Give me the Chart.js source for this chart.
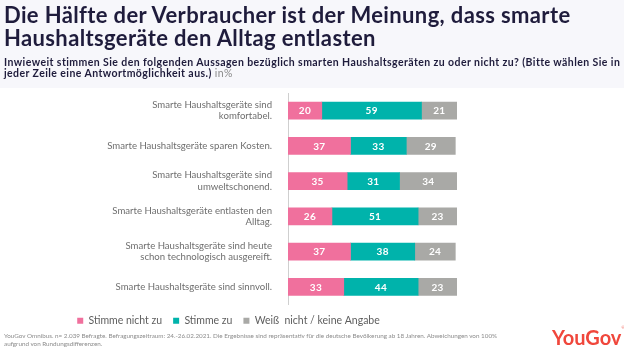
<!DOCTYPE html>
<html>
<head>
<meta charset="utf-8">
<script src="https://cdn.jsdelivr.net/npm/chart.js@4"></script>
<style>
  html, body { margin:0; padding:0; background:#ffffff; }
  body { width:624px; height:356px; position:relative; overflow:hidden; font-family: Lato, "Open Sans", sans-serif; }
  #band { position:absolute; left:0; top:0; width:624px; height:88px; background:#f7f7fb; }
  #c { position:absolute; left:0; top:0; }
  .line { position:absolute; left:4px; white-space:nowrap; line-height:1.2; }
  .title { font-weight:700; color:#1f1c3c; font-size:22px; }
  .sub { font-weight:700; color:#1f1c3c; font-size:10.5px; }
  .sub .gray { font-weight:400; color:#8a8a8a; }
  .foot { color:#8c8c8c; font-size:5.6px; font-weight:400; }
  #logo { position:absolute; left:552px; top:325px; color:#f0473c; font-weight:700; font-size:20px; white-space:nowrap; }
  #logo sup { font-size:4px; vertical-align:top; font-weight:400; }
</style>
</head>
<body>
<div id="band"></div>
<canvas id="c" width="607" height="356"></canvas>
<div class="line title" id="t1" style="top:2px">Die Hälfte der Verbraucher ist der Meinung, dass smarte</div>
<div class="line title" id="t2" style="top:25px">Haushaltsgeräte den Alltag entlasten</div>
<div class="line sub" id="s1" style="top:56px">Inwieweit stimmen Sie den folgenden Aussagen bezüglich smarten Haushaltsgeräten zu oder nicht zu? (Bitte wählen Sie in</div>
<div class="line sub" id="s2" style="top:67px">jeder Zeile eine Antwortmöglichkeit aus.) <span class="gray">in%</span></div>
<div class="line foot" id="f1" style="top:332px">YouGov Omnibus. n= 2.039 Befragte. Befragungszeitraum: 24.-26.02.2021. Die Ergebnisse sind repräsentativ für die deutsche Bevölkerung ab 18 Jahren. Abweichungen von 100%</div>
<div class="line foot" id="f2" style="top:339.5px">aufgrund von Rundungsdifferenzen.</div>
<div id="logo">YouGov<sup>®</sup></div>
<script>
// ---- data ----
const categories = [
  ["Smarte Haushaltsgeräte sind", "komfortabel."],
  "Smarte Haushaltsgeräte sparen Kosten.",
  ["Smarte Haushaltsgeräte sind", "umweltschonend."],
  ["Smarte Haushaltsgeräte entlasten den", "Alltag."],
  ["Smarte Haushaltsgeräte sind heute", "schon technologisch ausgereift."],
  "Smarte Haushaltsgeräte sind sinnvoll."
];
const seriesNames = ["Stimme nicht zu", "Stimme zu", "Weiß  nicht / keine Angabe"];
const disagree = [20, 37, 35, 26, 37, 33];
const agree    = [59, 33, 31, 51, 38, 44];
const unknown  = [21, 29, 34, 23, 24, 23];
const seriesColors = ["#f0709d", "#00b3ab", "#a9a9a6"];

// ---- fit HTML text widths with letter-spacing ----
function fitLS(id, w) {
  const el = document.getElementById(id);
  el.style.letterSpacing = "0px";
  const w0 = el.getBoundingClientRect().width;
  const n = el.textContent.length;
  const ls = (w - w0) / n;
  el.style.letterSpacing = ls + "px";
  return ls;
}
const lsT = fitLS("t1", 566);
document.getElementById("t2").style.letterSpacing = lsT + "px";
const lsS = fitLS("s1", 616);
document.getElementById("s2").style.letterSpacing = lsS + "px";
function fitFS(id, w) {
  const el = document.getElementById(id);
  let fs = parseFloat(getComputedStyle(el).fontSize);
  for (let i = 0; i < 5; i++) {
    fs = fs * w / el.getBoundingClientRect().width;
    el.style.fontSize = fs + "px";
  }
  return fs;
}
const fsF = fitFS("f1", 494);
document.getElementById("f2").style.fontSize = fsF + "px";

const labelPlugin = {
  id: "barLabels",
  afterDatasetsDraw(chart) {
    const ctx = chart.ctx;
    ctx.save();
    ctx.letterSpacing = "0.3px";
    ctx.fillStyle = "#ffffff";
    ctx.font = "700 10px Lato";
    ctx.textAlign = "center";
    ctx.textBaseline = "middle";
    chart.data.datasets.forEach((ds, di) => {
      const meta = chart.getDatasetMeta(di);
      meta.data.forEach((bar, i) => {
        const cx = (bar.x + bar.base) / 2;
        ctx.fillText(String(ds.data[i]), cx, bar.y + 0.5);
      });
    });
    ctx.restore();
  }
};

new Chart(document.getElementById("c"), {
  type: "bar",
  data: {
    labels: categories,
    datasets: [
      { label: seriesNames[0], data: disagree, backgroundColor: seriesColors[0] },
      { label: seriesNames[1], data: agree, backgroundColor: seriesColors[1] },
      { label: seriesNames[2], data: unknown, backgroundColor: seriesColors[2] }
    ]
  },
  options: {
    indexAxis: "y",
    responsive: false,
    animation: false,
    events: [],
    datasets: { bar: { barThickness: 17, borderWidth: 0 } },
    layout: { padding: { top: 93, right: 150, left: 0, bottom: 20 } },
    scales: {
      x: { stacked: true, min: 0, max: 100, display: false },
      y: {
        stacked: true,
        grid: { display: false, drawTicks: false },
        border: { display: true, color: "#cfcfcf", width: 1 },
        ticks: { color: "#6e6e6e", font: { family: "Lato", size: 9.6 }, padding: 16 },
        afterFit(scale) { scale.width = 288; }
      }
    },
    plugins: {
      legend: {
        position: "bottom",
        labels: { boxWidth: 6, boxHeight: 6, padding: 11, color: "#5e5e5e", font: { family: "Lato", size: 10.5 } }
      },
      tooltip: { enabled: false }
    }
  },
  plugins: [labelPlugin]
});
</script>
</body>
</html>
